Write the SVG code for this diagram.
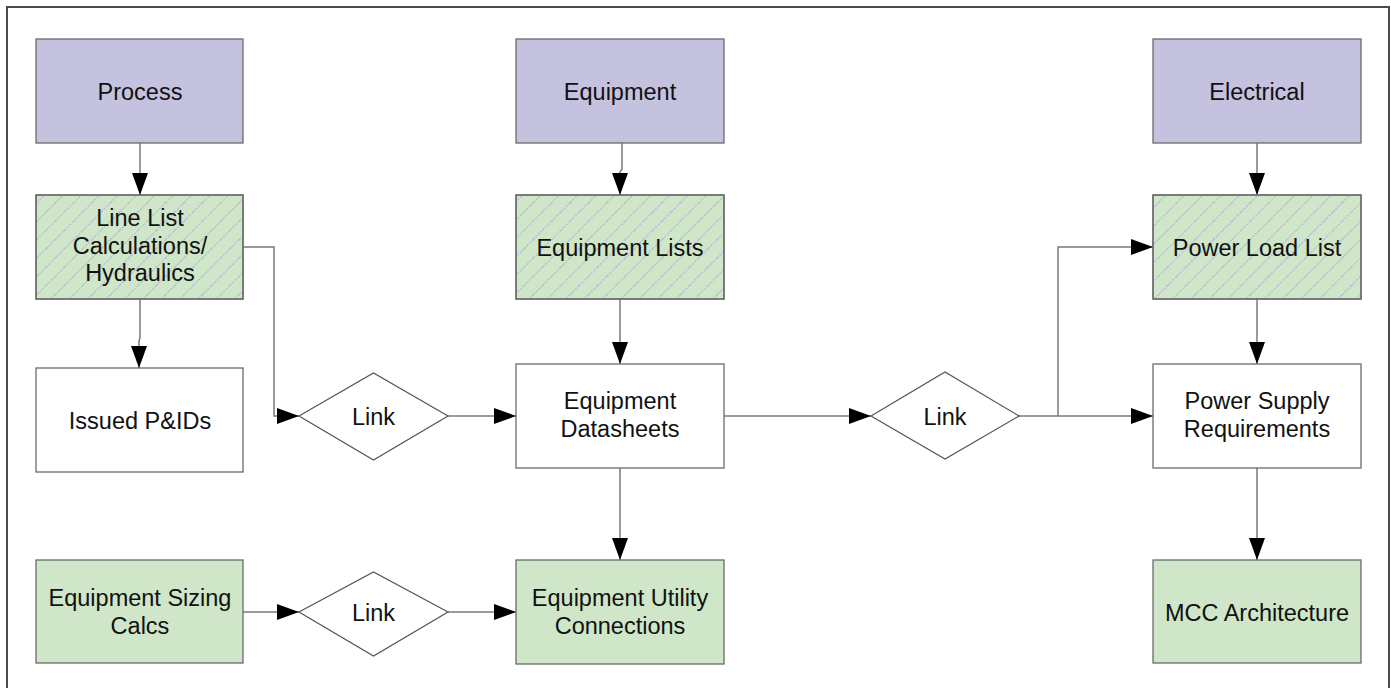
<svg xmlns="http://www.w3.org/2000/svg" width="1391" height="688" viewBox="0 0 1391 688">
  <defs>
    <style>
      .box { stroke: #6b6b6b; stroke-width: 1.3; }
      .dept { fill: #c4c2de; }
      .doc { fill: #cfe6c8; }
      .plain { fill: #ffffff; }
      .hatch { fill: url(#hatch); }
      .lbl { font-family: "Liberation Sans", Arial, sans-serif; font-size: 23.5px; fill: #111; text-anchor: middle; }
      .link { fill: #ffffff; stroke: #555; stroke-width: 1.2; }
      .conn { fill: none; stroke: #7a7a7a; stroke-width: 1.5; marker-end: url(#arrow); }
      .seg { fill: none; stroke: #7a7a7a; stroke-width: 1.5; }
    </style>
    <pattern id="hatch" patternUnits="userSpaceOnUse" width="13" height="13" patternTransform="rotate(45)">
      <line x1="0" y1="0" x2="0" y2="13" stroke="#a2a4e2" stroke-width="1.5" stroke-dasharray="2.5 1.2"/>
    </pattern>
    <marker id="arrow" viewBox="0 0 22 16" refX="22" refY="8" markerWidth="22" markerHeight="16" markerUnits="userSpaceOnUse" orient="auto">
      <path d="M0,0 L22,8 L0,16 Z" fill="#000"/>
    </marker>
  </defs>

  <rect width="1391" height="688" fill="#ffffff"/>
  <!-- outer frame -->
  <path d="M7,690 L7,7 L1389,7 L1389,690" fill="none" stroke="#4a4a4a" stroke-width="2"/>

  <!-- connectors -->
  <g id="connectors">
    <path class="conn" d="M140,143 L140,195"/>
    <path class="conn" d="M140,299 L140,338 L139,341 L139,368"/>
    <path class="conn" d="M243,247 L274,247 L274,416 L299,416"/>
    <path class="conn" d="M448,416 L516,416"/>
    <path class="conn" d="M622,143 L622,169 L620,172 L620,195"/>
    <path class="conn" d="M620,299 L620,364"/>
    <path class="conn" d="M620,468 L620,560"/>
    <path class="conn" d="M243,612 L299,612"/>
    <path class="conn" d="M448,612 L516,612"/>
    <path class="conn" d="M724,416 L871,416"/>
    <path class="seg" d="M1019,416 L1058,416"/>
    <path class="conn" d="M1058,416 L1058,247 L1153,247"/>
    <path class="conn" d="M1058,416 L1153,416"/>
    <path class="conn" d="M1257,143 L1257,195"/>
    <path class="conn" d="M1257,299 L1257,364"/>
    <path class="conn" d="M1257,468 L1257,560"/>
  </g>

  <!-- left column -->
  <g id="process">
    <rect class="box dept" x="36" y="39" width="207" height="104"/>
    <text class="lbl" x="140" y="99.5">Process</text>
  </g>
  <g id="line-list">
    <rect class="box doc" x="36" y="195" width="207" height="104"/>
    <rect class="hatch" x="36.7" y="195.7" width="205.6" height="102.6"/>
    <rect class="box" x="36" y="195" width="207" height="104" fill="none"/>
    <text class="lbl" x="140" y="226">Line List</text>
    <text class="lbl" x="140" y="253.5">Calculations/</text>
    <text class="lbl" x="140" y="281">Hydraulics</text>
  </g>
  <g id="issued-pids">
    <rect class="box plain" x="36" y="368" width="207" height="104"/>
    <text class="lbl" x="140" y="428.5">Issued P&amp;IDs</text>
  </g>
  <g id="sizing-calcs">
    <rect class="box doc" x="36" y="560" width="207" height="103"/>
    <text class="lbl" x="140" y="606">Equipment Sizing</text>
    <text class="lbl" x="140" y="634">Calcs</text>
  </g>

  <!-- link diamonds -->
  <g id="link-1">
    <polygon class="link" points="299,416 373.5,373 448,416 373.5,460"/>
    <text class="lbl" x="373.5" y="424.5">Link</text>
  </g>
  <g id="link-3">
    <polygon class="link" points="299,612 373.5,572 448,612 373.5,656"/>
    <text class="lbl" x="373.5" y="620.5">Link</text>
  </g>
  <g id="link-2">
    <polygon class="link" points="871,416 945,372 1019,416 945,459"/>
    <text class="lbl" x="945" y="424.5">Link</text>
  </g>

  <!-- middle column -->
  <g id="equipment">
    <rect class="box dept" x="516" y="39" width="208" height="104"/>
    <text class="lbl" x="620" y="99.5">Equipment</text>
  </g>
  <g id="equipment-lists">
    <rect class="box doc" x="516" y="195" width="208" height="104"/>
    <rect class="hatch" x="516.7" y="195.7" width="206.6" height="102.6"/>
    <rect class="box" x="516" y="195" width="208" height="104" fill="none"/>
    <text class="lbl" x="620" y="255.5">Equipment Lists</text>
  </g>
  <g id="equipment-datasheets">
    <rect class="box plain" x="516" y="364" width="208" height="104"/>
    <text class="lbl" x="620" y="409">Equipment</text>
    <text class="lbl" x="620" y="437">Datasheets</text>
  </g>
  <g id="utility-connections">
    <rect class="box doc" x="516" y="560" width="208" height="104"/>
    <text class="lbl" x="620" y="606">Equipment Utility</text>
    <text class="lbl" x="620" y="634">Connections</text>
  </g>

  <!-- right column -->
  <g id="electrical">
    <rect class="box dept" x="1153" y="39" width="208" height="104"/>
    <text class="lbl" x="1257" y="99.5">Electrical</text>
  </g>
  <g id="power-load-list">
    <rect class="box doc" x="1153" y="195" width="208" height="104"/>
    <rect class="hatch" x="1153.7" y="195.7" width="206.6" height="102.6"/>
    <rect class="box" x="1153" y="195" width="208" height="104" fill="none"/>
    <text class="lbl" x="1257" y="255.5">Power Load List</text>
  </g>
  <g id="power-supply">
    <rect class="box plain" x="1153" y="364" width="208" height="104"/>
    <text class="lbl" x="1257" y="409">Power Supply</text>
    <text class="lbl" x="1257" y="437">Requirements</text>
  </g>
  <g id="mcc-architecture">
    <rect class="box doc" x="1153" y="560" width="208" height="103"/>
    <text class="lbl" x="1257" y="620.5">MCC Architecture</text>
  </g>
</svg>
